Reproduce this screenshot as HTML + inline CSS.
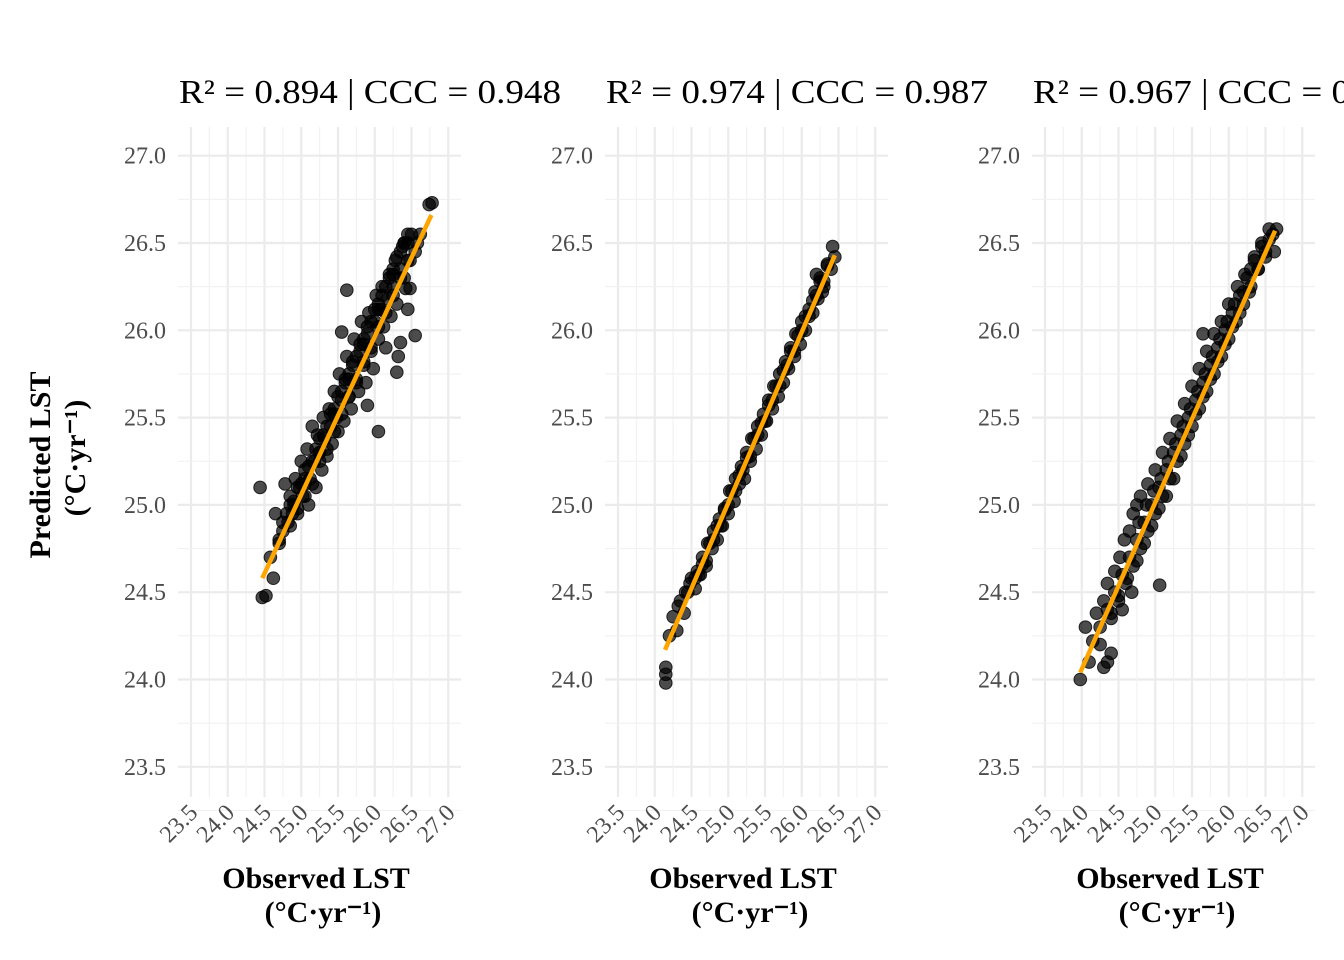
<!DOCTYPE html>
<html><head><meta charset="utf-8">
<style>
html,body{margin:0;padding:0;background:#fff;}
svg{display:block;font-family:"Liberation Serif",serif;}
svg text{font-family:"Liberation Serif",serif;}
</style></head>
<body>
<svg id="chart" width="1344" height="960" viewBox="0 0 1344 960">
<g>
<text x="0" y="0" transform="translate(50,465) rotate(-90)" text-anchor="middle" font-size="30" font-weight="bold" fill="#000">Predicted LST</text>
<text x="0" y="0" transform="translate(85,458) rotate(-90)" text-anchor="middle" font-size="30" font-weight="bold" fill="#000">(°C·yr⁻¹)</text>
</g>
<g id="panels"></g>
</svg>
<script>
const ticks = [23.5,24.0,24.5,25.0,25.5,26.0,26.5,27.0];
const tickLabels = ["23.5","24.0","24.5","25.0","25.5","26.0","26.5","27.0"];
const titles = ["R² = 0.894 | CCC = 0.948","R² = 0.974 | CCC = 0.987","R² = 0.967 | CCC = 0.983"];

const obs1 = [24.47,24.52,24.44,24.58,24.62,24.65,24.70,24.75,24.78,24.82,24.85,24.88,24.92,24.95,24.98,25.00,25.02,25.05,25.08,25.10,25.12,25.15,25.18,25.20,25.22,25.25,25.28,25.30,25.32,25.35,25.38,25.40,25.42,25.45,25.48,25.50,25.52,25.55,25.55,25.58,25.60,25.62,25.65,25.68,25.70,25.72,25.75,25.78,25.80,25.82,25.85,25.88,25.90,25.90,25.92,25.95,25.98,26.00,26.02,26.05,26.05,26.08,26.10,26.12,26.15,26.18,26.20,26.22,26.25,26.28,26.30,26.30,26.32,26.35,26.35,26.38,26.40,26.42,26.45,26.45,26.48,26.50,26.55,26.55,26.58,26.62,26.74,26.78,25.62,26.48,24.90,25.05,25.25,25.45,25.65,25.85,26.05,26.25,26.40,
 24.70,24.75,24.80,24.85,24.90,24.95,25.00,25.05,25.10,25.15,25.20,25.25,25.30,25.35,25.40,25.45,25.50,25.55,25.60,25.65,25.70,25.75,25.80,25.85,25.90,25.95,26.00,26.05,26.10,26.15,26.20,26.25,26.30,26.35,26.40,26.45,
 24.85,24.95,25.05,25.15,25.25,25.35,25.45,25.55,25.65,25.75,25.85,25.95,26.05,26.15,26.25,26.35,26.45];
const pred1 = [24.47,24.48,25.10,24.70,24.58,24.95,24.78,24.85,25.12,24.90,25.05,24.95,25.15,24.98,25.10,25.25,25.05,25.20,25.32,25.00,25.15,25.45,25.25,25.10,25.40,25.30,25.20,25.50,25.38,25.28,25.55,25.45,25.35,25.65,25.50,25.42,25.75,25.60,25.99,25.48,25.70,25.85,25.62,25.55,25.80,25.95,25.72,25.65,25.88,26.05,25.80,25.70,25.57,25.98,26.10,25.88,25.78,26.05,26.20,25.42,25.95,26.12,26.25,26.02,25.90,26.18,26.30,26.08,26.25,26.40,25.76,26.15,25.85,25.93,26.35,26.48,26.30,26.24,26.12,26.50,26.40,26.55,25.97,26.45,26.50,26.55,26.72,26.73,26.23,26.24,25.00,25.12,25.30,25.52,25.72,25.92,26.12,26.32,26.50,
 24.80,24.90,24.95,25.00,25.02,25.10,25.12,25.15,25.22,25.25,25.32,25.38,25.40,25.45,25.52,25.55,25.62,25.65,25.72,25.75,25.82,25.85,25.92,25.95,26.02,26.05,26.12,26.15,26.20,26.25,26.32,26.35,26.42,26.45,26.50,26.55,
 24.88,24.95,25.05,25.12,25.25,25.32,25.42,25.52,25.62,25.70,25.82,25.90,26.02,26.10,26.20,26.30,26.40];
const obs2 = [24.15,24.15,24.15,24.20,24.25,24.30,24.32,24.35,24.40,24.42,24.48,24.50,24.55,24.58,24.62,24.65,24.70,24.72,24.78,24.80,24.85,24.88,24.92,24.95,25.00,25.02,25.08,25.10,25.15,25.18,25.22,25.25,25.30,25.32,25.38,25.40,25.45,25.48,25.52,25.55,25.60,25.62,25.68,25.70,25.75,25.78,25.82,25.85,25.90,25.92,25.98,26.00,26.05,26.10,26.15,26.18,26.22,26.25,26.30,26.35,26.40,26.42,26.20,26.28,26.45,
 24.45,24.55,24.65,24.75,24.85,24.95,25.05,25.15,25.25,25.35,25.45,25.55,25.65,25.75,25.85,25.95,26.05,26.15,26.25,26.35,
 24.60,24.70,24.80,24.90,25.00,25.10,25.20,25.30,25.40,25.50,25.60,25.70,25.80,25.90,26.00,26.10,26.20,26.30];
const pred2 = [24.07,24.03,23.98,24.25,24.36,24.28,24.42,24.45,24.38,24.50,24.55,24.58,24.52,24.62,24.60,24.70,24.65,24.78,24.75,24.85,24.80,24.92,24.88,24.98,24.95,25.08,25.02,25.15,25.12,25.22,25.15,25.30,25.25,25.38,25.32,25.45,25.40,25.52,25.48,25.60,25.55,25.68,25.62,25.75,25.70,25.82,25.78,25.90,25.85,25.98,25.92,26.05,26.00,26.12,26.10,26.22,26.18,26.30,26.25,26.38,26.35,26.48,26.32,26.22,26.42,
 24.50,24.58,24.66,24.78,24.88,24.97,25.08,25.17,25.27,25.38,25.47,25.57,25.68,25.77,25.88,25.97,26.08,26.17,26.28,26.37,
 24.60,24.68,24.80,24.88,25.00,25.08,25.20,25.28,25.40,25.48,25.60,25.68,25.80,25.88,26.00,26.08,26.20,26.28];
const obs3 = [23.98,24.05,24.10,24.15,24.20,24.25,24.30,24.35,24.40,24.30,24.35,24.40,24.45,24.50,24.52,24.55,24.58,24.62,24.65,24.68,24.70,24.75,24.78,24.80,24.85,24.88,24.90,24.95,24.98,25.00,25.06,25.05,25.08,25.10,25.15,25.18,25.20,25.25,25.28,25.30,25.35,25.38,25.40,25.45,25.48,25.50,25.55,25.58,25.60,25.65,25.68,25.70,25.75,25.78,25.80,25.85,25.88,25.90,25.95,25.98,26.00,26.05,26.08,26.12,26.15,26.20,26.22,26.28,26.30,26.35,26.40,26.45,26.50,26.55,26.60,26.65,26.62,25.65,24.75,
 24.25,24.35,24.45,24.55,24.65,24.75,24.85,24.95,25.05,25.15,25.25,25.35,25.45,25.55,25.65,25.75,25.85,25.95,26.05,26.15,26.25,26.35,26.45,26.55,
 24.40,24.50,24.60,24.70,24.80,24.90,25.00,25.10,25.20,25.30,25.40,25.50,25.60,25.70,25.80,25.90,26.00,26.10,26.20,26.30,26.40,26.50];
const pred3 = [24.00,24.30,24.10,24.22,24.38,24.20,24.07,24.10,24.15,24.45,24.55,24.38,24.62,24.48,24.70,24.40,24.80,24.58,24.85,24.50,24.95,24.68,24.90,25.05,24.78,25.00,25.12,24.88,25.08,25.20,24.54,24.98,25.15,25.30,25.05,25.25,25.38,25.15,25.35,25.48,25.28,25.45,25.58,25.40,25.55,25.68,25.52,25.65,25.78,25.62,25.75,25.88,25.72,25.85,25.98,25.82,25.95,26.05,25.92,26.05,26.15,26.02,26.15,26.25,26.10,26.22,26.32,26.22,26.35,26.42,26.35,26.48,26.42,26.52,26.55,26.58,26.45,25.98,25.00,
 24.30,24.40,24.50,24.60,24.70,24.80,24.90,25.00,25.10,25.20,25.30,25.40,25.50,25.60,25.70,25.80,25.90,26.00,26.10,26.20,26.30,26.40,26.50,26.58,
 24.35,24.45,24.55,24.65,24.75,24.85,24.95,25.05,25.15,25.25,25.35,25.45,25.55,25.65,25.75,25.85,25.95,26.05,26.15,26.25,26.35,26.45];

const lineObs = [[24.47,26.77],[24.14,26.45],[23.98,26.63]];
const linePred = [[24.58,26.66],[24.17,26.43],[24.04,26.57]];

const NS = "http://www.w3.org/2000/svg";
const root = document.getElementById("panels");
const panelOffsets = [0,427,854];
const obsAll = [obs1,obs2,obs3], predAll = [pred1,pred2,pred3];
const FF = '"Liberation Serif", serif';

function mk(tag, attrs, parent){
  const e = document.createElementNS(NS, tag);
  for (const k in attrs) e.setAttribute(k, attrs[k]);
  parent.appendChild(e);
  return e;
}

for (let p=0;p<3;p++){
  const off = panelOffsets[p];
  const xS = v => off + 191 + (v-23.5)*73.5;
  const yS = v => 155.7 + (27.0-v)*174.6;
  const left = off+178, right = off+461, top = 127, bottom = 797;
  const g = mk("g", {}, root);
  
  
  const grid = mk("g", {}, g);
  
  
  for (let i=0;i<ticks.length;i++){
    const t = ticks[i];
    mk("line",{x1:left,x2:right,y1:yS(t),y2:yS(t),stroke:"#ebebeb","stroke-width":2.2},grid);
    mk("line",{x1:xS(t),x2:xS(t),y1:top,y2:bottom,stroke:"#ebebeb","stroke-width":2.2},grid);
    if (i<ticks.length-1){
      const m = (t+ticks[i+1])/2;
      mk("line",{x1:left,x2:right,y1:yS(m),y2:yS(m),stroke:"#f1f1f1","stroke-width":1.1},grid);
      mk("line",{x1:xS(m),x2:xS(m),y1:top,y2:bottom,stroke:"#f1f1f1","stroke-width":1.1},grid);
    }
  }
  mk("line",{x1:left,x2:right,y1:yS(23.25),y2:yS(23.25),stroke:"#f1f1f1","stroke-width":1.1},grid);
  const yl = mk("g",{},g);
  
  
  for (let i=0;i<ticks.length;i++){
    const tx = mk("text",{x:off+166,y:yS(ticks[i])+8,"text-anchor":"end","font-size":24,fill:"#4d4d4d","font-family":FF},yl);
    tx.textContent = tickLabels[i];
  }
  const xl = mk("g",{},g);
  
  
  for (let i=0;i<ticks.length;i++){
    const x = xS(ticks[i]);
    const tx = mk("text",{x:0,y:0,transform:`translate(${x+8},${814}) rotate(-45)`,"text-anchor":"end","font-size":24,fill:"#4d4d4d","font-family":FF},xl);
    tx.textContent = tickLabels[i];
  }
  const pts = mk("g",{},g);
  
  
  const ob = obsAll[p], pr = predAll[p];
  for (let i=0;i<ob.length;i++){
    const c = mk("circle",{cx:xS(ob[i]),cy:yS(pr[i]),r:6.3,fill:"#000","fill-opacity":0.7,stroke:"#000","stroke-opacity":0.8,"stroke-width":1},pts);
    
    
  }
  const ln = mk("line",{x1:xS(lineObs[p][0]),y1:yS(linePred[p][0]),x2:xS(lineObs[p][1]),y2:yS(linePred[p][1]),stroke:"#ffa500","stroke-width":4.5},g);
  
  
  const tt = mk("text",{x:off+179,y:103,"font-size":34,fill:"#000",textLength:382,lengthAdjust:"spacingAndGlyphs","font-family":FF},g);
  tt.textContent = titles[p];
  
  
  const xt = mk("g",{},g);
  
  
  const a = mk("text",{x:off+316,y:888,"text-anchor":"middle","font-size":30,"font-weight":"bold",fill:"#000","font-family":FF},xt);
  a.textContent = "Observed LST";
  const b = mk("text",{x:off+323,y:922,"text-anchor":"middle","font-size":30,"font-weight":"bold",fill:"#000","font-family":FF},xt);
  b.textContent = "(°C·yr⁻¹)";
}
</script>
</body></html>
